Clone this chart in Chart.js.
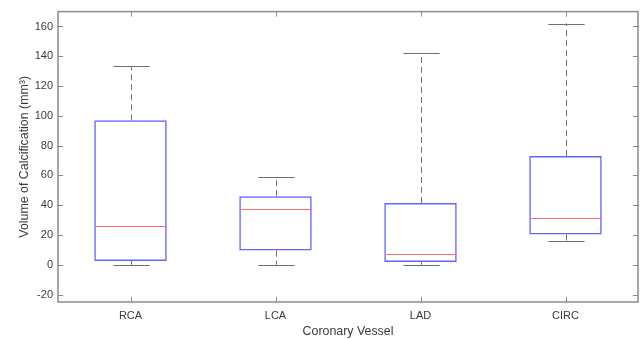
<!DOCTYPE html>
<html lang="en">
  <head>
    <meta charset="UTF-8">
    <script src="https://cdn.jsdelivr.net/npm/chart.js"></script>
    <title>Volume of Calcification</title>
    <style>
      html, body { margin: 0; padding: 0; background: #fff; }
      #wrap { width: 644px; height: 339px; }
    </style>
  </head>
  <body>
    <div id="wrap"><canvas id="myChart" width="644" height="339"></canvas></div>
    <script>
        // boxplot stats
        const vessels = ['RCA', 'LCA', 'LAD', 'CIRC'];
        const lowWhisker = [0, 0, 0, 16];
        const q1 = [2.5, 9.5, 1.8, 20.3];
        const median = [26, 37.6, 7.1, 31.1];
        const q3 = [97, 46, 41.5, 73];
        const highWhisker = [133.5, 59, 142, 162];
        const yTicks = [-20, 0, 20, 40, 60, 80, 100, 120, 140, 160];

        const font = { family: "'Liberation Sans', Arial, sans-serif", size: 11 };
        const titleFont = { family: "'Liberation Sans', Arial, sans-serif", size: 12.4 };
        const textColor = '#3a3a3a';
        const axisColor = '#8c8c8c';

        // whiskers, caps, medians, frame and inward ticks
        const boxExtras = {
          id: 'boxExtras',
          afterDatasetsDraw(chart) {
            const c = chart.ctx;
            const x = chart.scales.x;
            const y = chart.scales.y;
            const area = chart.chartArea;
            const step = x.getPixelForValue(1) - x.getPixelForValue(0);
            const capHalf = step / 8;
            const boxHalf = step / 4;
            c.save();
            vessels.forEach((v, i) => {
              const cx = Math.round(x.getPixelForValue(i)) + 0.5;
              // dashed whiskers
              c.strokeStyle = '#707070';
              c.lineWidth = 1;
              c.setLineDash([6, 4]);
              c.beginPath();
              c.moveTo(cx, y.getPixelForValue(q3[i]));
              c.lineTo(cx, y.getPixelForValue(highWhisker[i]));
              c.moveTo(cx, y.getPixelForValue(q1[i]));
              c.lineTo(cx, y.getPixelForValue(lowWhisker[i]));
              c.stroke();
              c.setLineDash([]);
              // caps
              c.beginPath();
              [lowWhisker[i], highWhisker[i]].forEach(val => {
                const py = Math.round(y.getPixelForValue(val)) + 0.5;
                c.moveTo(cx - capHalf, py);
                c.lineTo(cx + capHalf, py);
              });
              c.stroke();
              // median
              c.strokeStyle = '#ff6b6b';
              c.beginPath();
              const my = Math.round(y.getPixelForValue(median[i])) + 0.5;
              c.moveTo(cx - boxHalf + 1, my);
              c.lineTo(cx + boxHalf - 1, my);
              c.stroke();
            });
            // frame
            c.strokeStyle = axisColor;
            c.lineWidth = 1.5;
            c.strokeRect(area.left, area.top, area.right - area.left, area.bottom - area.top);
            // inward ticks
            c.lineWidth = 1;
            c.beginPath();
            yTicks.forEach(t => {
              const py = Math.round(y.getPixelForValue(t)) + 0.5;
              c.moveTo(area.left, py); c.lineTo(area.left + 5, py);
              c.moveTo(area.right, py); c.lineTo(area.right - 5, py);
            });
            vessels.forEach((v, i) => {
              const px = Math.round(x.getPixelForValue(i)) + 0.5;
              c.moveTo(px, area.bottom); c.lineTo(px, area.bottom - 5);
              c.moveTo(px, area.top); c.lineTo(px, area.top + 5);
            });
            c.stroke();
            c.restore();
          }
        };

        const ctx = document.getElementById('myChart');
        new Chart(ctx, {
          type: 'bar',
          data: {
            labels: vessels,
            datasets: [{
              label: 'Box',
              data: vessels.map((v, i) => [q1[i], q3[i]]),
              backgroundColor: 'rgba(0,0,0,0)',
              borderColor: '#6464ff',
              borderWidth: 1.5,
              borderSkipped: false,
              barPercentage: 0.5,
              categoryPercentage: 1
            }]
          },
          options: {
            responsive: false,
            animation: false,
            layout: { padding: { top: 8, right: 6, left: 0, bottom: 0 } },
            plugins: {
              legend: { display: false },
              tooltip: { enabled: false }
            },
            scales: {
              x: {
                offset: true,
                grid: { display: false, drawTicks: false },
                border: { display: false },
                ticks: { color: textColor, font: font, padding: 7 },
                title: { display: true, text: 'Coronary Vessel', color: textColor, font: titleFont, padding: { top: 1, bottom: 0 } },
                afterFit(scale) { scale.height = 37; }
              },
              y: {
                min: -25,
                max: 170,
                grid: { display: false, drawTicks: false },
                border: { display: false },
                ticks: { color: textColor, font: font, padding: 5, stepSize: 20 },
                afterBuildTicks(scale) { scale.ticks = yTicks.map(v => ({ value: v })); },
                title: { display: true, text: 'Volume of Calcification (mm³)', color: textColor, font: titleFont, padding: { top: 17, bottom: 4 } },
                afterFit(scale) { scale.width = 58; }
              }
            }
          },
          plugins: [boxExtras]
        });
    </script>
  </body>
</html>
